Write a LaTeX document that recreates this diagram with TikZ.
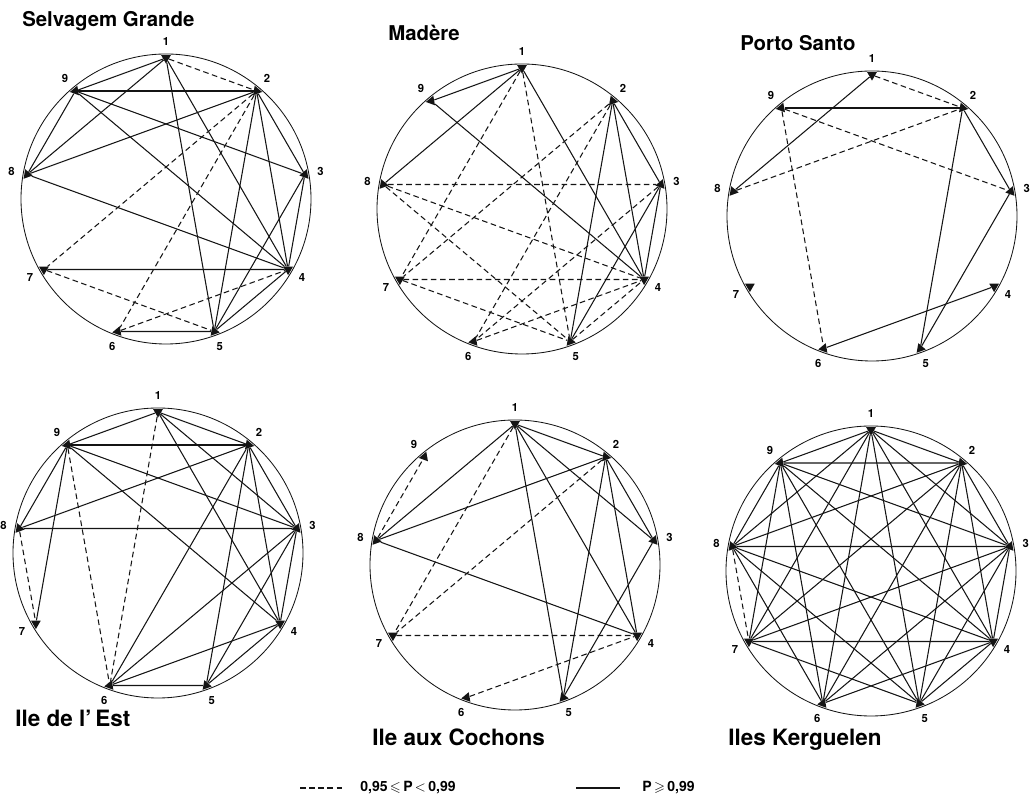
\documentclass[tikz,border=0pt]{standalone}
\usepackage{amssymb}
\usepackage{fontspec}
\setmainfont{TeX Gyre Heros}
\usepackage{tikz}
\usetikzlibrary{shapes.geometric, calc}
\definecolor{inkblk}{RGB}{20,20,20}
\tikzset{
  rim/.style={draw=inkblk, line width=0.6pt},
  sig/.style={draw=inkblk, line width=0.75pt},
  sigd/.style={draw=inkblk, line width=0.75pt, dash pattern=on 4pt off 2.5pt},
  tri/.style={regular polygon, regular polygon sides=3, fill=inkblk,
    inner sep=0pt, minimum size=0.28cm},
  numlbl/.style={font=\fontsize{8}{9}\selectfont\bfseries, inner sep=0pt},
  ttltop/.style={font=\fontsize{14.5}{16}\selectfont\bfseries, anchor=west, inner sep=0pt},
  ttlbot/.style={font=\fontsize{16}{18}\selectfont\bfseries, anchor=west, inner sep=0pt},
  lgdtxt/.style={font=\fontsize{10}{12}\selectfont\bfseries, anchor=west, inner sep=0pt}
}
% ring of nine sites: #1 prefix, #2 centre
\newcommand{\islandring}[2]{%
  \coordinate (#1c) at (#2);
  \draw[rim] (#1c) circle[radius=145];
  \foreach \k in {1,...,9}{
    \pgfmathsetmacro\ang{130-40*\k}
    \node[tri, rotate=\ang+90] (#1\k) at ($(#1c)+(\ang:141)$) {};
    \node[numlbl] (#1l\k) at ($(#1c)+(\ang:157)$) {\k};
  }%
}

\begin{document}
\begin{tikzpicture}[x=0.025cm, y=0.025cm]
  \useasboundingbox (0,0) rectangle (1033,808);

  % Selvagem Grande
  \islandring{sg}{166,609}
  \node[ttltop] (sgt) at (22,787) {Selvagem Grande};
  \foreach \a/\b in {1/9,1/8,1/5,1/4,9/2,9/3,9/4,9/8,8/2,8/4,2/5,2/4,2/3,3/4,3/5,4/5,7/4,6/5}
    \draw[sig] (sg\a) -- (sg\b);
  \foreach \a/\b in {1/2,2/7,2/6,7/5,6/4}
    \draw[sigd] (sg\a) -- (sg\b);

  % Madere
  \islandring{ma}{522,599}
  \node[ttltop] (mat) at (388,775) {Madère};
  \foreach \a/\b in {1/9,1/8,1/4,9/4,2/5,2/4,2/3,3/4,3/5}
    \draw[sig] (ma\a) -- (ma\b);
  \foreach \a/\b in {1/7,1/5,8/3,8/4,8/5,2/7,2/6,3/6,7/4,7/5,6/4,5/4}
    \draw[sigd] (ma\a) -- (ma\b);

  % Porto Santo
  \islandring{ps}{872,592}
  \node[ttltop] (pst) at (740,765) {Porto Santo};
  \foreach \a/\b in {1/8,9/2,2/3,2/5,3/5,6/4}
    \draw[sig] (ps\a) -- (ps\b);
  \foreach \a/\b in {1/2,9/3,9/6,8/2}
    \draw[sigd] (ps\a) -- (ps\b);

  % Ile de l'Est
  \islandring{ie}{158,255}
  \node[ttlbot] (iet) at (15,90) {Ile de l'\,Est};
  \foreach \a/\b in {1/9,1/2,1/3,1/4,9/2,9/3,9/4,9/8,9/7,8/2,8/3,2/6,2/5,2/4,2/3,3/6,3/5,3/4,4/6,4/5,6/5}
    \draw[sig] (ie\a) -- (ie\b);
  \foreach \a/\b in {1/6,9/6,8/7}
    \draw[sigd] (ie\a) -- (ie\b);

  % Ile aux Cochons
  \islandring{ic}{515,243}
  \node[ttlbot] (ict) at (372,71) {Ile aux Cochons};
  \foreach \a/\b in {1/2,1/8,1/5,1/4,1/3,2/8,2/3,2/4,2/5,8/4,3/5}
    \draw[sig] (ic\a) -- (ic\b);
  \foreach \a/\b in {1/7,2/7,8/9,7/4,6/4}
    \draw[sigd] (ic\a) -- (ic\b);

  % Iles Kerguelen
  \islandring{ik}{871,237}
  \node[ttlbot] (ikt) at (728,68) {Iles Kerguelen};
  \foreach \a/\b in {1/2,1/3,1/4,1/5,1/6,1/7,1/8,1/9,2/3,2/4,2/5,2/6,2/7,2/8,2/9,
                     3/4,3/5,3/6,3/7,3/8,3/9,4/5,4/6,4/7,4/8,4/9,5/7,5/8,5/9,
                     6/8,6/9,7/9,8/9}
    \draw[sig] (ik\a) -- (ik\b);
  \draw[sigd] (ik8) -- (ik7);

  % legend
  \coordinate (lgda) at (300,20);
  \coordinate (lgdb) at (345,20);
  \coordinate (lgdc) at (576,20);
  \coordinate (lgdd) at (620,20);
  \draw[sigd] (lgda) -- (lgdb);
  \node[lgdtxt] (lgdp) at (360,20) {0,95\,$\leqslant$\,P\,$<$\,0,99};
  \draw[sig] (lgdc) -- (lgdd);
  \node[lgdtxt] (lgdq) at (642,20) {P\,$\geqslant$\,0,99};
\end{tikzpicture}
\end{document}
